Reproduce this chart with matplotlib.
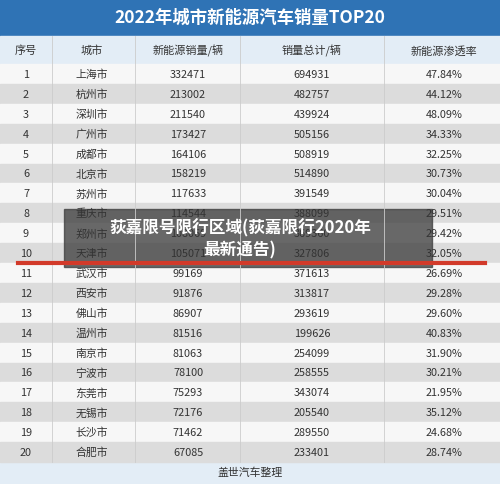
import matplotlib
matplotlib.use("Agg")
import matplotlib.pyplot as plt
from matplotlib.patches import Rectangle

plt.rcParams['font.family'] = ['Noto Sans CJK SC', 'DejaVu Sans']

title = "2022年城市新能源汽车销量TOP20"
headers = ["序号", "城市", "新能源销量/辆", "销量总计/辆", "新能源渗透率"]
ranks = list(range(1, 21))
cities = ["上海市", "杭州市", "深圳市", "广州市", "成都市", "北京市", "苏州市", "重庆市", "郑州市", "天津市",
          "武汉市", "西安市", "佛山市", "温州市", "南京市", "宁波市", "东莞市", "无锡市", "长沙市", "合肥市"]
nev_sales = [332471, 213002, 211540, 173427, 164106, 158219, 117633, 114544, 108069, 105071,
             99169, 91876, 86907, 81516, 81063, 78100, 75293, 72176, 71462, 67085]
total_sales = [694931, 482757, 439924, 505156, 508919, 514890, 391549, 388099, 369360, 327806,
               371613, 313817, 293619, 199626, 254099, 258555, 343074, 205540, 289550, 233401]
penetration = ["47.84%", "44.12%", "48.09%", "34.33%", "32.25%", "30.73%", "30.04%", "29.51%", "29.42%", "32.05%",
               "26.69%", "29.28%", "29.60%", "40.83%", "31.90%", "30.21%", "21.95%", "35.12%", "24.68%", "28.74%"]
footer = "盖世汽车整理"
overlay = "荻嘉限号限行区域(荻嘉限行2020年\n最新通告)"

fig = plt.figure(figsize=(5, 4.85), dpi=100)
ax = fig.add_axes([0, 0, 1, 1])
ax.set_xlim(0, 500); ax.set_ylim(485, 0); ax.axis('off')
fig.patch.set_facecolor('#e3edf6')

ax.add_patch(Rectangle((0, 0), 500, 37, color='#2f73b5'))
ax.text(250, 18, title, color='white', fontsize=12.5, fontweight='bold', ha='center', va='center')
ax.add_patch(Rectangle((0, 37), 500, 28, color='#e3edf6'))
xs = [26, 92, 188, 312, 444]
for x, h in zip(xs, headers):
    ax.text(x, 51, h, fontsize=8, color='#333333', ha='center', va='center')

top, rh = 65, 19.9
for i in range(20):
    y = top + i * rh
    ax.add_patch(Rectangle((0, y), 500, rh, color='#f7f7f7' if i % 2 == 0 else '#dcdcdc'))
    vals = [str(ranks[i]), cities[i], str(nev_sales[i]), str(total_sales[i]), penetration[i]]
    for x, v in zip(xs, vals):
        ax.text(x, y + rh / 2, v, fontsize=7.8, color='#333333', ha='center', va='center')
for x in [52, 135, 240, 384]:
    ax.plot([x, x], [37, top + 20 * rh], color='#cccccc', lw=0.6)
ax.text(250, 473, footer, fontsize=7.8, color='#333333', ha='center', va='center')

ax.plot([18, 485], [264, 264], color='#d23a2a', lw=3)
ax.add_patch(Rectangle((64, 210), 368, 58, color='#404040', alpha=0.78))
ax.text(240, 239, overlay, color='white', fontsize=12, fontweight='bold', ha='center', va='center', linespacing=1.3)

fig.savefig("out.png", dpi=100)
